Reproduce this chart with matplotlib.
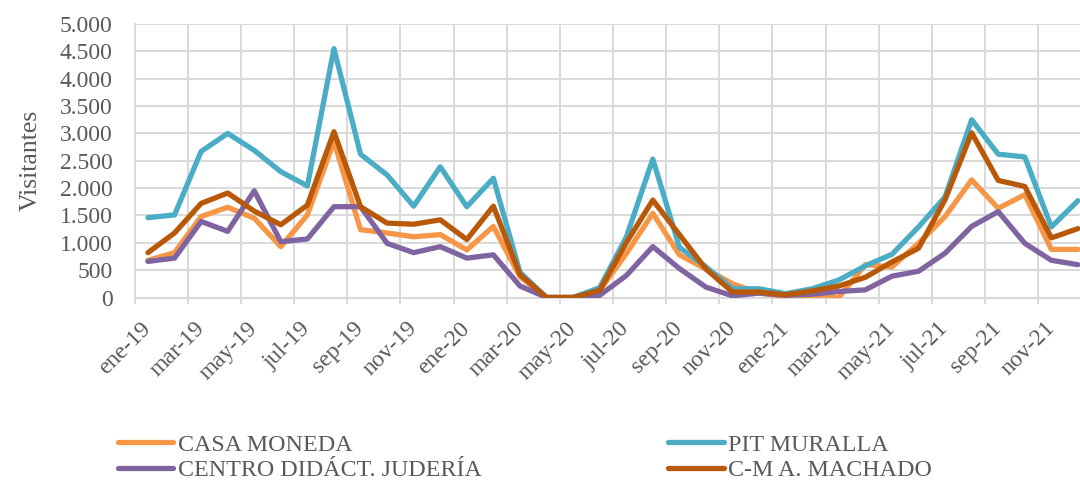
import numpy as np
import matplotlib
matplotlib.use("Agg")
import matplotlib.pyplot as plt
import matplotlib.transforms as mtransforms
from matplotlib.lines import Line2D

# months ene-19 .. dic-21
meses = ["ene", "feb", "mar", "abr", "may", "jun", "jul", "ago", "sep", "oct", "nov", "dic"]
etiquetas = [f"{m}-{a}" for a in ("19", "20", "21") for m in meses]

casa_moneda = [680, 820, 1480, 1650, 1450, 930, 1510, 2850, 1240, 1180, 1110, 1150,
               870, 1300, 380, 0, 0, 130, 800, 1540, 780, 520, 250, 80,
               20, 20, 0, 600, 560, 990, 1480, 2150, 1630, 1880, 880, 880]
pit_muralla = [1460, 1510, 2670, 3000, 2690, 2300, 2040, 4550, 2620, 2240, 1670, 2390,
               1660, 2180, 460, 0, 0, 180, 1100, 2530, 920, 560, 160, 160,
               70, 160, 320, 580, 790, 1290, 1840, 3250, 2620, 2570, 1290, 1770]
centro_juderia = [660, 720, 1390, 1210, 1950, 1020, 1070, 1660, 1660, 990, 820, 930,
                  720, 780, 210, 0, 0, 40, 400, 930, 530, 190, 30, 80,
                  40, 60, 110, 140, 390, 480, 810, 1300, 1570, 990, 680, 600]
cm_machado = [820, 1180, 1720, 1910, 1580, 1330, 1690, 3030, 1660, 1360, 1340, 1420,
              1060, 1670, 420, 0, 0, 130, 1000, 1780, 1150, 520, 100, 100,
              50, 120, 210, 370, 650, 900, 1790, 3010, 2140, 2030, 1090, 1260]

series = [
    ("CASA MONEDA", casa_moneda, "#F79646"),
    ("PIT MURALLA", pit_muralla, "#4BACC6"),
    ("CENTRO DIDÁCT. JUDERÍA", centro_juderia, "#8064A2"),
    ("C-M A. MACHADO", cm_machado, "#B8590A"),
]

plt.rcParams["font.family"] = ["Liberation Serif", "DejaVu Serif"]
gris = "#595959"
rejilla = "#D9D9D9"

fig = plt.figure(figsize=(10.8, 4.8), dpi=100)
# plot area runs a bit past the right edge, like the cropped original
ax = fig.add_axes([0.1247, 0.3802, 0.8857, 0.5698])

x = np.arange(len(etiquetas))
for nombre, valores, color in series:
    ax.plot(x, valores, color=color, lw=3.8, solid_joinstyle="round",
            solid_capstyle="round", label=nombre, zorder=3)

ax.set_xlim(-0.5, len(etiquetas) - 0.5)
ax.set_ylim(0, 5000)
ax.set_yticks(np.arange(0, 5001, 500))
ax.set_yticklabels([f"{v:,}".replace(",", ".") for v in range(0, 5001, 500)])
ax.set_xticks(x[::2])
ax.set_xticklabels(etiquetas[::2], rotation=45, ha="right", va="center",
                   rotation_mode="anchor")
ax.set_xticks(np.arange(-0.5, len(etiquetas), 2), minor=True)

# nudge the rotated month labels a few pixels right
desplazar = mtransforms.ScaledTranslation(4 / 100, 0, fig.dpi_scale_trans)
for lbl in ax.get_xticklabels():
    lbl.set_transform(lbl.get_transform() + desplazar)

ax.grid(True, which="major", axis="y", color=rejilla, lw=1.4)
ax.grid(True, which="minor", axis="x", color=rejilla, lw=1.4)
ax.set_axisbelow(True)
for s in ("top", "right"):
    ax.spines[s].set_visible(False)
for s in ("left", "bottom"):
    ax.spines[s].set_color(rejilla)
    ax.spines[s].set_linewidth(1.4)

ax.tick_params(axis="both", which="major", length=0, colors=gris, labelsize=17)
ax.tick_params(axis="x", which="minor", length=4, width=1.4, color=rejilla)
ax.tick_params(axis="x", which="major", pad=20)
ax.tick_params(axis="y", pad=16)
ax.set_ylabel("Visitantes", color=gris, fontsize=18.5, labelpad=13)

# legend: two columns placed separately, as in the original
def entrada(color):
    return Line2D([], [], color=color, lw=3.8, solid_capstyle="round")

col1 = [series[0], series[2]]
col2 = [series[1], series[3]]
for col, xpos in ((col1, 0.100), (col2, 0.610)):
    leg = fig.legend([entrada(c) for _, _, c in col], [n for n, _, _ in col],
                     loc="upper left", bbox_to_anchor=(xpos, 0.116),
                     frameon=False, fontsize=17.3, handlelength=2.3,
                     handletextpad=0.2, labelspacing=0.14, borderaxespad=0)
    for t in leg.get_texts():
        t.set_color(gris)

fig.savefig("out.png", dpi=100)
